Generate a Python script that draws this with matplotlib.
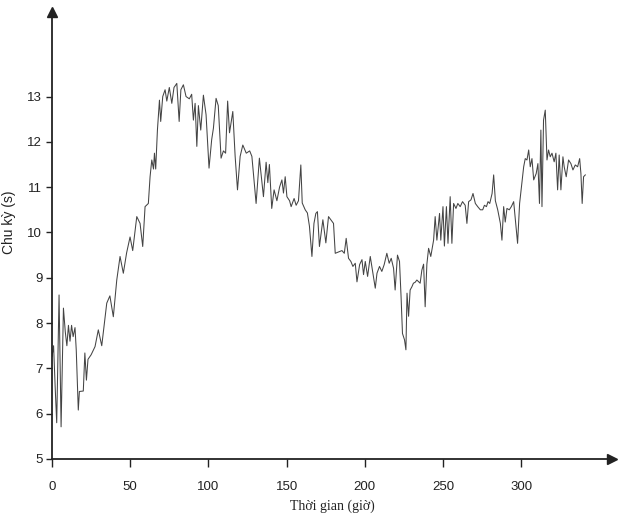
import matplotlib
matplotlib.use("Agg")
from matplotlib import pyplot as plt

# time (hours) and wave period (s)
hours = [0, 1, 2, 3, 4.5, 5.8, 7.3, 8.5, 9.5, 10.5, 11.5, 12.5, 13.5, 14.7, 15.5, 16.8, 17.5, 20,
         21, 22, 23, 25, 27.5, 29.6, 31.8, 35, 37, 39.2, 41.4, 43.5, 45.6, 47.7, 49.9, 51.6, 54.2,
         56.3, 58, 59.5, 61.6, 62.7, 63.8, 64.9, 65.5, 66.3, 67.4, 68.7, 69.5, 70.8, 72.3, 73.4,
         75, 76.6, 78, 79.8, 81.3, 82.4, 84, 85.7, 87.8, 89.3, 90.4, 91.5, 92.6, 93.6, 95.1, 96.8,
         98.5, 100.4, 102.1, 103.2, 104.9, 106.3, 108.1, 109.6, 111, 112.3, 113.5, 115.6, 117.1,
         118.6, 120.3, 122, 124.2, 126.4, 127.8, 130.5, 132.6, 135.2, 136.9, 138, 139, 140.5, 142,
         143.8, 145.5, 147, 148, 149.1, 150.2, 151.9, 152.9, 154.8, 156.1, 157.6, 159.1, 160,
         161.9, 163.3, 164.6, 166.2, 167.5, 168.7, 169.7, 171, 173.2, 175.1, 176.8, 178.3, 180,
         181.1, 183.2, 185.4, 186.9, 188.1, 189.6, 191.1, 192.4, 193.9, 195, 196.7, 198.2, 199.2,
         200.3, 201.8, 203.5, 205.2, 206.7, 207.8, 209.4, 210.9, 212.4, 214.1, 215.6, 216.9,
         218.4, 219.4, 220.9, 222.2, 223.2, 224.1, 225.4, 226.3, 227, 228, 229, 230.1, 231.1,
         232.2, 233.3, 235.4, 236.5, 237.6, 238.6, 239.7, 240.8, 242.2, 244, 245, 246.1, 247.8,
         248.6, 250, 250.9, 252.2, 253.2, 254.6, 255.7, 256.8, 258.3, 259.5, 261, 262.5, 264.2,
         265.3, 266.4, 267.9, 269.2, 270.7, 272.2, 273.9, 275.4, 276.5, 277.8, 278.8, 279.9,
         281.4, 282.4, 283.5, 285, 286.7, 287.7, 288.8, 289.8, 290.9, 292.4, 293.7, 295.2, 296.3,
         297.7, 299, 300.4, 301.6, 302.6, 303.7, 304.8, 305.8, 306.9, 308, 309.6, 310.7, 311.7,
         312.6, 313.3, 314.3, 315.4, 316.5, 317.5, 318.6, 319.7, 321.1, 322.2, 323.3, 324.3,
         325.4, 326.7, 327.5, 328.8, 330.3, 331.8, 333.1, 334.6, 336.1, 337.4, 338.2, 339, 339.9,
         341]
period = [7.26, 7.5, 6.6, 5.8, 8.62, 5.71, 8.33, 7.8, 7.5, 7.95, 7.6, 7.95, 7.7, 7.9, 7.4, 6.08, 6.49,
          6.5, 7.34, 6.74, 7.2, 7.3, 7.48, 7.85, 7.5, 8.44, 8.6, 8.14, 8.95, 9.47, 9.1, 9.55, 9.9,
          9.6, 10.35, 10.2, 9.69, 10.57, 10.64, 11.23, 11.6, 11.4, 11.75, 11.4, 12.26, 12.92, 12.45,
          13.0, 13.15, 12.9, 13.2, 12.85, 13.2, 13.29, 12.45, 13.15, 13.26, 13.0, 12.95, 13.05,
          12.48, 12.85, 11.9, 12.8, 12.26, 13.03, 12.6, 11.42, 12.05, 12.3, 12.96, 12.8, 11.64,
          11.8, 11.75, 12.9, 12.2, 12.67, 11.68, 10.94, 11.68, 11.93, 11.75, 11.8, 11.68, 10.64,
          11.64, 10.79, 11.55, 11.1, 11.5, 10.53, 10.94, 10.7, 11.0, 11.16, 10.87, 11.23, 10.79,
          10.7, 10.57, 10.75, 10.6, 10.7, 11.49, 10.65, 10.5, 10.43, 10.14, 9.47, 10.2, 10.42,
          10.46, 9.69, 10.28, 9.77, 10.35, 10.28, 10.2, 9.54, 9.57, 9.6, 9.54, 9.87, 9.43, 9.36,
          9.25, 9.32, 8.91, 9.29, 9.4, 9.07, 9.36, 9.03, 9.47, 9.1, 8.77, 9.1, 9.25, 9.14, 9.29,
          9.54, 9.32, 9.43, 9.21, 8.73, 9.5, 9.36, 8.58, 7.77, 7.63, 7.41, 8.66, 8.15, 8.73, 8.8,
          8.88, 8.9, 8.95, 8.88, 9.17, 9.3, 8.36, 9.3, 9.65, 9.47, 9.83, 10.35, 9.83, 10.42, 9.83,
          10.57, 9.7, 10.57, 9.76, 10.79, 9.76, 10.64, 10.53, 10.64, 10.57, 10.68, 10.6, 10.2,
          10.68, 10.72, 10.86, 10.64, 10.57, 10.5, 10.5, 10.6, 10.57, 10.68, 10.64, 10.86, 11.27,
          10.7, 10.5, 10.2, 9.83, 10.57, 10.23, 10.53, 10.5, 10.57, 10.68, 10.27, 9.76, 10.64,
          11.08, 11.45, 11.63, 11.6, 11.82, 11.45, 11.63, 11.16, 11.3, 11.52, 10.64, 12.26, 10.57,
          12.48, 12.7, 11.6, 11.82, 11.67, 11.75, 11.56, 11.75, 10.94, 11.71, 10.94, 11.67, 11.45,
          11.23, 11.6, 11.52, 11.38, 11.49, 11.45, 11.63, 11.3, 10.64, 11.23, 11.27]

xticks = [0, 50, 100, 150, 200, 250, 300]
yticks = [5, 6, 7, 8, 9, 10, 11, 12, 13]

fig = plt.figure(figsize=(6.2, 5.23), dpi=100)
ax = fig.add_axes([0.0839, 0.1224, 0.903, 0.855])

ax.plot(hours, period, color="#444444", linewidth=0.75)

ax.set_xlim(0, 358)
ax.set_ylim(5, 14.87)
ax.set_xticks(xticks)
ax.set_yticks(yticks)

ax.spines["top"].set_visible(False)
ax.spines["right"].set_visible(False)
for s in ("left", "bottom"):
    ax.spines[s].set_linewidth(1.3)
    ax.spines[s].set_color("#222222")

# arrow heads on the axes
ax.plot(1, 0, ">", color="#222222", markersize=7, transform=ax.transAxes, clip_on=False)
ax.plot(0, 1, "^", color="#222222", markersize=7, transform=ax.transAxes, clip_on=False)

ax.tick_params(axis="x", length=6, width=1, pad=10, labelsize=9.5, colors="#222222")
ax.tick_params(axis="y", length=4, width=1, pad=3, labelsize=9.5, colors="#222222")
for lbl in ax.get_xticklabels() + ax.get_yticklabels():
    lbl.set_fontfamily("Liberation Sans")

ax.set_xlabel("Thời gian (giờ)", fontfamily="Liberation Serif", fontsize=10, color="#222222")
ax.xaxis.set_label_coords(0.5, -0.09)
ax.set_ylabel("Chu kỳ (s)", fontfamily="Liberation Sans", fontsize=10, color="#222222")
ax.yaxis.set_label_coords(-0.065, 0.53)

fig.savefig("out.png", dpi=100)
